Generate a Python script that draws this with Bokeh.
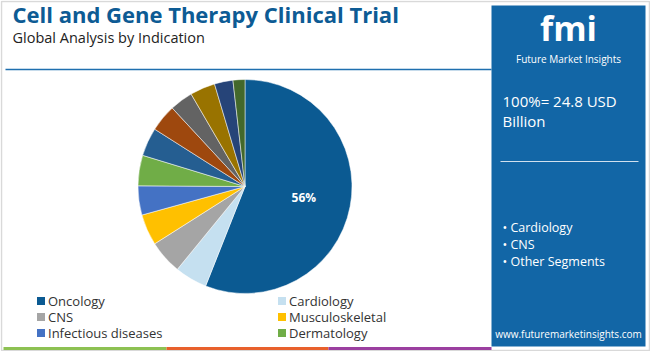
import numpy as np
from bokeh.plotting import figure
from bokeh.models import Range1d, Label, ColumnDataSource
from bokeh.core.properties import value
from bokeh.embed import file_html
from bokeh.resources import INLINE

# ---- data ----
categories = ["Oncology", "Cardiology", "CNS", "Musculoskeletal", "Infectious diseases",
              "Dermatology", "Other 1", "Other 2", "Other 3", "Other 4", "Other 5", "Other 6"]
shares = [56.0, 4.9, 5.1, 4.7, 4.4, 4.6, 4.3, 4.1, 3.5, 3.8, 2.8, 1.8]
colors = ["#0B5A92", "#C5E0F0", "#A5A5A5", "#FFC000", "#4472C4", "#70AD47",
          "#255E91", "#9E480E", "#636363", "#997300", "#264478", "#43682B"]
legend_items = ["Oncology", "Cardiology", "CNS", "Musculoskeletal", "Infectious diseases", "Dermatology"]
panel_bullets = ["• Cardiology", "• CNS", "• Other Segments"]
total_text = ["100%= 24.8 USD", "Billion"]

W, H = 650, 351
FONT = "Open Sans"

def Y(ys):
    return H - ys

p = figure(width=W, height=H, output_backend="svg", toolbar_location=None,
           x_range=Range1d(0, W), y_range=Range1d(0, H), min_border=0)
p.axis.visible = False
p.grid.visible = False
p.outline_line_color = None
p.background_fill_color = "white"
p.border_fill_color = "white"

# outer border
p.rect(x=[W / 2], y=[H / 2], width=[W - 2], height=[H - 2], fill_color=None,
       line_color="#d9d9d9", line_width=1.5)

# title
p.add_layout(Label(x=12, y=Y(28), text="Cell and Gene Therapy Clinical Trial", text_font=FONT,
                   text_font_style="bold", text_font_size="22px", text_color="#0D5B94"))
p.add_layout(Label(x=12, y=Y(46), text="Global Analysis by Indication", text_font=FONT,
                   text_font_size="14.5px", text_color="#222222"))
# header rule
p.line(x=[5, 491], y=[Y(69), Y(69)], line_color="#1F6FAF", line_width=1.5)

# pie
vals = np.array(shares)
frac = vals / vals.sum()
cum = np.concatenate([[0], np.cumsum(frac)])
start = np.pi / 2 - cum[1:] * 2 * np.pi
end = np.pi / 2 - cum[:-1] * 2 * np.pi
cx, cy, r = 244.5, Y(186), 107
src = ColumnDataSource(dict(start=start, end=end, color=colors, cat=categories))
p.wedge(x=cx, y=cy, radius=r, radius_units="screen", start_angle="start", end_angle="end",
        fill_color="color", line_color="white", line_width=0.5, source=src)

mid = (start[0] + end[0]) / 2
p.add_layout(Label(x=cx + 0.56 * r * np.cos(mid), y=cy + 0.56 * r * np.sin(mid),
                   text=f"{shares[0]:.0f}%", text_font=FONT, text_font_style="bold",
                   text_font_size="12px", text_color="white", text_align="center",
                   text_baseline="middle"))

# legend
col_x = [40.5, 281.5]
row_y = [300.5, 316.5, 332.5]
for i, name in enumerate(legend_items):
    cx_l = col_x[i % 2]
    cy_l = Y(row_y[i // 2])
    p.rect(x=[cx_l], y=[cy_l], width=[8], height=[8], fill_color=colors[i], line_color=None)
    p.add_layout(Label(x=cx_l + 7, y=cy_l, text=name, text_font=FONT, text_font_size="13px",
                       text_color="#333333", text_baseline="middle"))

# bottom color bar
bar_x = [3, 166, 328, 491]
bar_c = ["#8DC152", "#E8602C", "#9B3FA0"]
for i in range(3):
    p.line(x=[bar_x[i], bar_x[i + 1]], y=[Y(348), Y(348)], line_color=bar_c[i], line_width=3)

# right panel
p.quad(left=[491], right=[645], top=[Y(5)], bottom=[Y(346)], fill_color="#1266A6", line_color=None)
p.add_layout(Label(x=568, y=Y(50), text="fmi", text_font=FONT, text_font_style="bold",
                   text_font_size="34px", text_color="white", text_align="center"))
p.add_layout(Label(x=568, y=Y(65), text="Future Market Insights", text_font=FONT,
                   text_font_size="10px", text_color="white", text_align="center"))
for j, t in enumerate(total_text):
    p.add_layout(Label(x=502, y=Y(110 + j * 20), text=t, text_font=FONT,
                       text_font_size="15px", text_color="white"))
p.line(x=[500, 638], y=[Y(161), Y(161)], line_color="#d0e0ee", line_width=1)
for j, t in enumerate(panel_bullets):
    p.add_layout(Label(x=502, y=Y(235 + j * 17), text=t, text_font=FONT,
                       text_font_size="12.5px", text_color="white"))
p.add_layout(Label(x=568, y=Y(340), text="www.futuremarketinsights.com", text_font=FONT,
                   text_font_size="10px", text_color="white", text_align="center"))

open("out.html", "w").write(file_html(p, INLINE))
